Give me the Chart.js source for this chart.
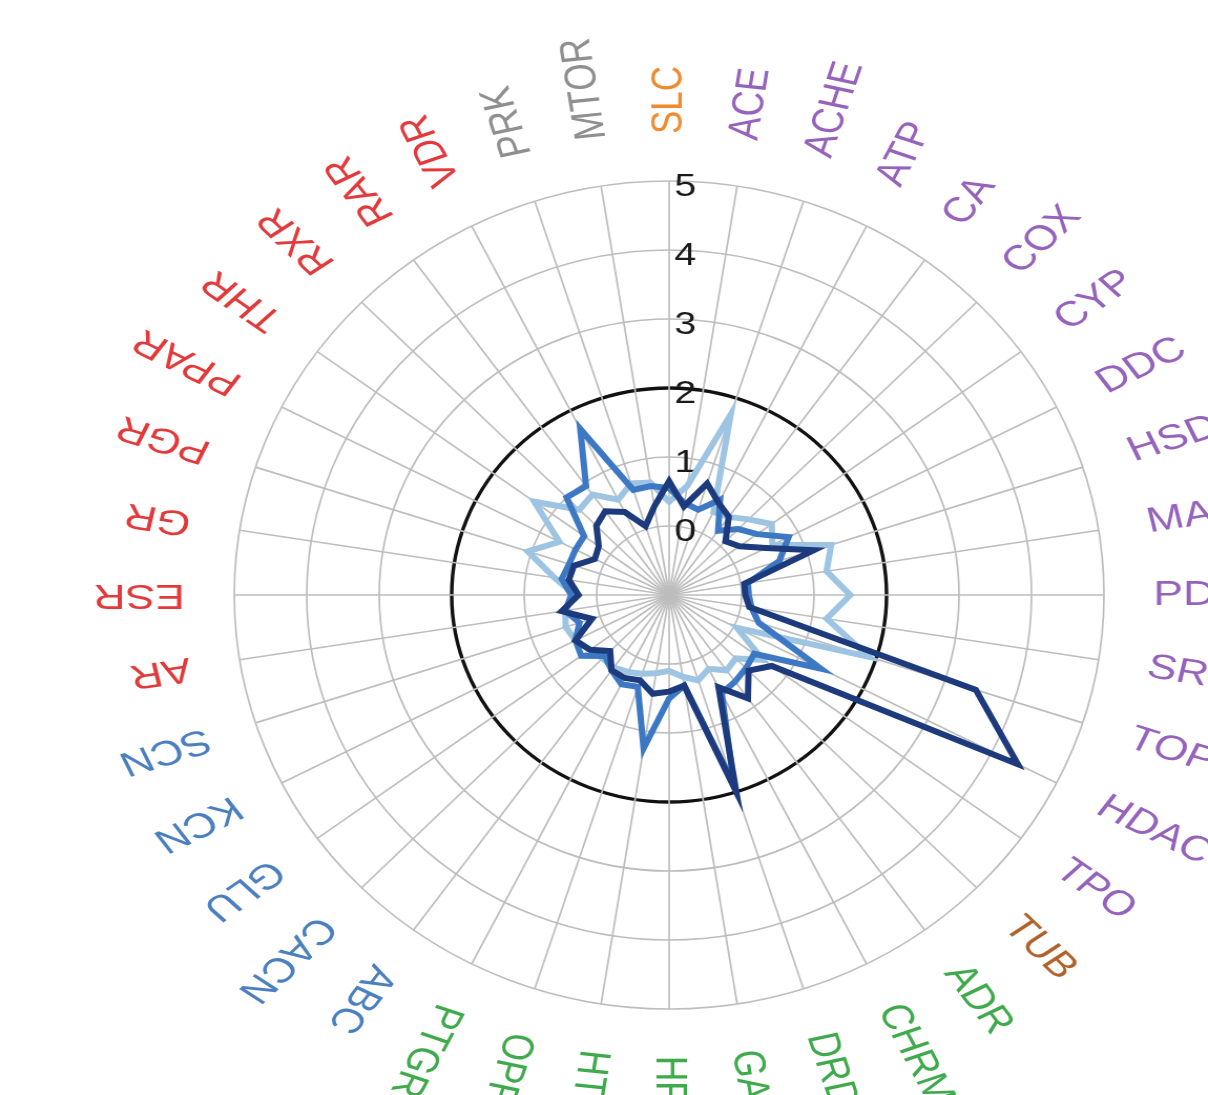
<!DOCTYPE html>
<html>
<head>
<meta charset="utf-8">
<script src="https://cdn.jsdelivr.net/npm/chart.js@4.4.1/dist/chart.umd.min.js"></script>
<style>
  html, body { margin: 0; padding: 0; background: #ffffff; overflow: hidden; }
  #wrap { width: 1150px; height: 1095px; transform: scaleX(1.0504); transform-origin: 0 0; }
</style>
</head>
<body>
<div id="wrap"><canvas id="chart"></canvas></div>
<script>
// Target families, clockwise from the top
const targets = ['SLC','ACE','ACHE','ATP','CA','COX','CYP','DDC','HSD','MAO','PDE','SRD','TOP','HDAC','TPO','TUB',
  'ADR','CHRM','DRD','GABA','HRH','HTR','OPRM','PTGR','ABC','CACN','GLU','KCN','SCN',
  'AR','ESR','GR','PGR','PPAR','THR','RXR','RAR','VDR','PRK','MTOR'];

// Class of each target (sets the label colour)
const targetClass = ['transporter','enzyme','enzyme','enzyme','enzyme','enzyme','enzyme','enzyme','enzyme','enzyme',
  'enzyme','enzyme','enzyme','enzyme','enzyme','tubulin',
  'gpcr','gpcr','gpcr','gpcr','gpcr','gpcr','gpcr','gpcr',
  'channel','channel','channel','channel','channel',
  'nuclear','nuclear','nuclear','nuclear','nuclear','nuclear','nuclear','nuclear','nuclear',
  'kinase','kinase'];

const classColors = {
  transporter: '#F08A2E', enzyme: '#9562BC', tubulin: '#B0622A', gpcr: '#3FAA4C',
  channel: '#4A7FC0', nuclear: '#E2393B', kinase: '#8F8F8F'
};

// Scores per target for the three compound sets
const seriesLight = [0.35,0.60,1.75,0.35,0.40,0.55,0.75,0.60,1.35,1.20,1.50,1.20,1.90,0.05,0.60,0.30,
  0.35,0.20,0.30,0.20,0.10,0.15,0.20,0.25,0.30,0.30,0.35,0.45,0.50,0.45,0.30,0.60,1.05,0.70,1.30,0.75,0.80,0.55,0.70,0.65];
const seriesMid = [0.55,0.35,0.30,0.55,0.15,0.35,0.50,0.85,0.60,0.10,0.10,0.15,0.30,1.35,0.45,0.50,
  0.55,0.60,1.90,0.33,0.50,1.25,0.40,0.45,0.35,0.25,0.50,0.45,0.30,0.45,0.35,0.50,0.45,0.45,0.45,1.00,0.95,1.70,0.60,0.60];
const seriesDark = [0.65,0.30,0.70,0.50,0.40,0.10,0.20,0.50,1.10,0.05,0.05,0.12,3.45,4.40,0.75,0.55,
  0.85,0.50,2.00,0.33,0.40,0.45,0.30,0.35,0.35,0.15,0.35,0.45,0.12,0.50,0.25,0.40,0.38,0.15,0.20,0.42,0.50,0.35,0.05,0.30];

const tickValues = [0, 1, 2, 3, 4, 5];
const referenceLevel = 2;

// Horizontal stretch applied to the text glyphs
const textStretch = 1.21;

const labelPlugin = {
  id: 'rotatedLabels',
  beforeDatasetsDraw(chart) {
    const s = chart.scales.r;
    const ctx = chart.ctx;
    ctx.save();
    ctx.font = '31px "Liberation Sans", Arial, sans-serif';
    ctx.fillStyle = '#1a1a1a';
    ctx.textAlign = 'left';
    ctx.textBaseline = 'middle';
    tickValues.forEach(v => {
      const r = s.getDistanceFromCenterForValue(v);
      ctx.save();
      ctx.translate(s.xCenter + 5, s.yCenter - r + 6);
      ctx.scale(textStretch, 1);
      ctx.fillText(String(v), 0, 0);
      ctx.restore();
    });
    ctx.restore();
  },
  afterDraw(chart) {
    const s = chart.scales.r;
    const ctx = chart.ctx;
    ctx.save();
    ctx.font = '35px "Liberation Sans", Arial, sans-serif';
    ctx.textAlign = 'left';
    ctx.textBaseline = 'middle';
    targets.forEach((name, i) => {
      const p = s.getPointPosition(i, s.drawingArea + 47);
      const a = Math.atan2(textStretch * Math.sin(p.angle), Math.cos(p.angle));
      ctx.save();
      ctx.translate(p.x, p.y);
      ctx.scale(textStretch, 1);
      ctx.rotate(a);
      ctx.fillStyle = classColors[targetClass[i]];
      ctx.fillText(name, 0, 0);
      ctx.restore();
    });
    ctx.restore();
  }
};

const lineStyle = { pointRadius: 0, pointHoverRadius: 0, borderWidth: 6, fill: false, tension: 0, borderJoinStyle: 'miter' };

new Chart(document.getElementById('chart'), {
  type: 'radar',
  data: {
    labels: targets,
    datasets: [
      Object.assign({ label: 'Set C', data: seriesDark, borderColor: '#1D3A7D' }, lineStyle),
      Object.assign({ label: 'Set B', data: seriesMid, borderColor: '#3C78C4' }, lineStyle),
      Object.assign({ label: 'Set A', data: seriesLight, borderColor: '#9DC5E3' }, lineStyle)
    ]
  },
  options: {
    responsive: true,
    maintainAspectRatio: false,
    animation: false,
    layout: { padding: { left: 223, right: 99, top: 181.5, bottom: 85.5 } },
    plugins: { legend: { display: false }, tooltip: { enabled: false } },
    scales: {
      r: {
        min: -1,
        max: 5,
        startAngle: 0,
        ticks: { display: false, stepSize: 1 },
        pointLabels: { display: false },
        grid: {
          circular: true,
          color: c => c.tick.value === referenceLevel ? '#111111' : '#bdbdbd',
          lineWidth: c => c.tick.value === referenceLevel ? 3.4 : 1.7
        },
        angleLines: { color: '#bdbdbd', lineWidth: 1.7 }
      }
    }
  },
  plugins: [labelPlugin]
});
</script>
</body>
</html>
